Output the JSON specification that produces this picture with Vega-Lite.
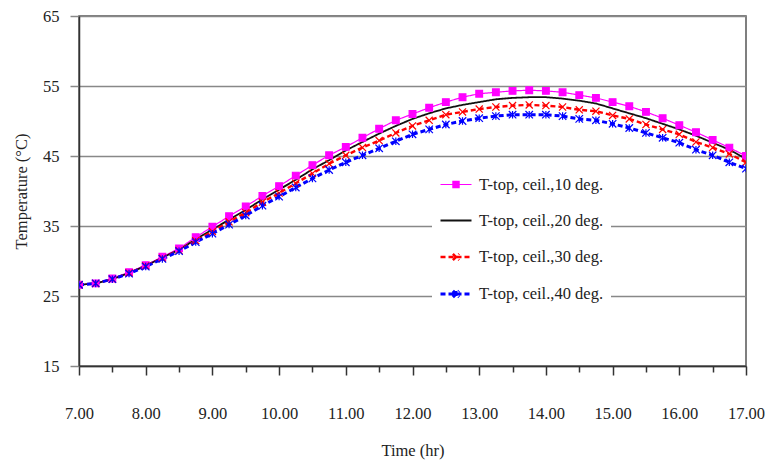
{
  "$schema": "https://vega.github.io/schema/vega-lite/v6.json",
  "width": 667,
  "height": 350,
  "autosize": {"type": "none"},
  "padding": {"left": 79, "top": 16, "right": 21, "bottom": 95},
  "background": "white",
  "config": {
    "font": "Liberation Serif",
    "view": {"stroke": "#555", "strokeWidth": 1.5}
  },
  "data": {
    "values": [
      {"t": 7.0, "10": 26.6, "20": 26.6, "30": 26.6, "40": 26.6},
      {"t": 7.25, "10": 26.8, "20": 26.8, "30": 26.8, "40": 26.8},
      {"t": 7.5, "10": 27.5, "20": 27.4, "30": 27.4, "40": 27.4},
      {"t": 7.75, "10": 28.4, "20": 28.3, "30": 28.3, "40": 28.2},
      {"t": 8.0, "10": 29.4, "20": 29.3, "30": 29.3, "40": 29.2},
      {"t": 8.25, "10": 30.6, "20": 30.5, "30": 30.4, "40": 30.3},
      {"t": 8.5, "10": 31.8, "20": 31.6, "30": 31.5, "40": 31.4},
      {"t": 8.75, "10": 33.4, "20": 33.1, "30": 32.9, "40": 32.7},
      {"t": 9.0, "10": 34.9, "20": 34.5, "30": 34.2, "40": 33.9},
      {"t": 9.25, "10": 36.4, "20": 35.9, "30": 35.6, "40": 35.2},
      {"t": 9.5, "10": 37.8, "20": 37.3, "30": 36.9, "40": 36.5},
      {"t": 9.75, "10": 39.3, "20": 38.8, "30": 38.4, "40": 37.9},
      {"t": 10.0, "10": 40.7, "20": 40.2, "30": 39.7, "40": 39.2},
      {"t": 10.25, "10": 42.2, "20": 41.6, "30": 41.1, "40": 40.5},
      {"t": 10.5, "10": 43.7, "20": 43.1, "30": 42.5, "40": 41.8},
      {"t": 10.75, "10": 45.1, "20": 44.4, "30": 43.9, "40": 43.0},
      {"t": 11.0, "10": 46.3, "20": 45.8, "30": 45.1, "40": 44.1},
      {"t": 11.25, "10": 47.6, "20": 47.0, "30": 46.2, "40": 45.1},
      {"t": 11.5, "10": 48.9, "20": 48.2, "30": 47.2, "40": 46.1},
      {"t": 11.75, "10": 50.1, "20": 49.3, "30": 48.3, "40": 47.1},
      {"t": 12.0, "10": 51.0, "20": 50.3, "30": 49.3, "40": 48.1},
      {"t": 12.25, "10": 51.9, "20": 51.1, "30": 50.1, "40": 48.8},
      {"t": 12.5, "10": 52.7, "20": 51.8, "30": 50.9, "40": 49.5},
      {"t": 12.75, "10": 53.4, "20": 52.3, "30": 51.3, "40": 50.0},
      {"t": 13.0, "10": 53.9, "20": 52.7, "30": 51.7, "40": 50.4},
      {"t": 13.25, "10": 54.1, "20": 53.1, "30": 52.0, "40": 50.7},
      {"t": 13.5, "10": 54.3, "20": 53.3, "30": 52.2, "40": 50.9},
      {"t": 13.75, "10": 54.4, "20": 53.4, "30": 52.3, "40": 50.9},
      {"t": 14.0, "10": 54.3, "20": 53.4, "30": 52.2, "40": 50.9},
      {"t": 14.25, "10": 54.1, "20": 53.2, "30": 52.0, "40": 50.7},
      {"t": 14.5, "10": 53.7, "20": 52.9, "30": 51.6, "40": 50.3},
      {"t": 14.75, "10": 53.3, "20": 52.5, "30": 51.4, "40": 50.1},
      {"t": 15.0, "10": 52.7, "20": 51.8, "30": 50.8, "40": 49.6},
      {"t": 15.25, "10": 52.1, "20": 51.1, "30": 50.3, "40": 49.0},
      {"t": 15.5, "10": 51.3, "20": 50.4, "30": 49.5, "40": 48.3},
      {"t": 15.75, "10": 50.4, "20": 49.6, "30": 48.8, "40": 47.6},
      {"t": 16.0, "10": 49.4, "20": 48.8, "30": 48.1, "40": 46.9},
      {"t": 16.25, "10": 48.4, "20": 47.9, "30": 47.0, "40": 45.9},
      {"t": 16.5, "10": 47.3, "20": 46.9, "30": 46.2, "40": 45.1},
      {"t": 16.75, "10": 46.2, "20": 45.9, "30": 45.3, "40": 44.1},
      {"t": 17.0, "10": 45.0, "20": 44.6, "30": 44.1, "40": 43.2}
    ]
  },
  "transform": [{"fold": ["10", "20", "30", "40"], "as": ["s", "T"]}],
  "encoding": {
    "x": {
      "field": "t",
      "type": "quantitative",
      "scale": {"domain": [7, 17], "nice": false, "zero": false},
      "axis": {
        "values": [7, 7.5, 8, 8.5, 9, 9.5, 10, 10.5, 11, 11.5, 12, 12.5, 13, 13.5, 14, 14.5, 15, 15.5, 16, 16.5, 17],
        "labelExpr": "datum.value % 1 === 0 ? format(datum.value, '.2f') : ''",
        "grid": false,
        "tickSize": {"condition": {"test": "datum.value % 1 === 0", "value": 9}, "value": 6},
        "tickColor": "#333",
        "tickWidth": 1.5,
        "domainColor": "#333",
        "domainWidth": 1.5,
        "labelFontSize": 16.5,
        "labelPadding": 30,
        "labelColor": "#222",
        "labelFlush": false,
        "labelOverlap": false,
        "title": "Time (hr)",
        "titleFontSize": 16.5,
        "titleFontWeight": "normal",
        "titleColor": "#222",
        "titlePadding": 21
      }
    },
    "y": {
      "field": "T",
      "type": "quantitative",
      "scale": {"domain": [15, 65], "nice": false, "zero": false},
      "axis": {
        "values": [15, 25, 35, 45, 55, 65],
        "grid": true,
        "gridColor": "#888",
        "gridWidth": 1.5,
        "tickSize": 9,
        "tickColor": "#888",
        "tickWidth": 1.5,
        "domainColor": "#333",
        "domainWidth": 1.5,
        "labelFontSize": 16.5,
        "labelPadding": 11,
        "labelColor": "#222",
        "title": "Temperature (°C)",
        "titleFontSize": 16.5,
        "titleFontWeight": "normal",
        "titleColor": "#222",
        "titlePadding": 13
      }
    }
  },
  "layer": [
    {
      "mark": {"type": "line", "clip": true},
      "encoding": {
        "color": {
          "field": "s",
          "type": "nominal",
          "scale": {"domain": ["10", "20", "30", "40"], "range": ["#FF00FF", "#111111", "#FF0000", "#0000FF"]},
          "legend": {
            "orient": "none",
            "legendX": 353,
            "legendY": 145,
            "title": null,
            "fillColor": "white",
            "padding": 7,
            "labelFontSize": 16.5,
            "labelColor": "#222",
            "labelFont": "Liberation Serif",
            "labelOffset": 6,
            "labelExpr": "'T-top, ceil.,' + datum.label + ' deg.'",
            "symbolSize": 961,
            "rowPadding": 11,
            "encode": {
              "symbols": {
                "update": {
                  "shape": {"signal": "datum.value === '10' ? 'M-1,0H1M-0.2,-0.2H0.2V0.2H-0.2Z' : datum.value === '20' ? 'M-1,0H1' : datum.value === '30' ? 'M-1,0H1M-0.2,-0.2L0.2,0.2M-0.2,0.2L0.2,-0.2' : 'M-1,0H1M0,-0.2V0.2M-0.2,-0.2L0.2,0.2M-0.2,0.2L0.2,-0.2'"},
                  "fill": {"signal": "datum.value === '10' ? '#FF00FF' : 'transparent'"},
                  "stroke": {"signal": "scale('color', datum.value)"},
                  "strokeWidth": {"signal": "datum.value === '20' ? 3 : 1.2"},
                  "size": {"value": 961},
                  "opacity": {"value": 1}
                }
              }
            }
          }
        },
        "strokeDash": {
          "field": "s",
          "type": "nominal",
          "scale": {"domain": ["10", "20", "30", "40"], "range": [[1, 0], [1, 0], [5, 3], [5, 3]]},
          "legend": null
        },
        "strokeWidth": {
          "field": "s",
          "type": "nominal",
          "scale": {"domain": ["10", "20", "30", "40"], "range": [1.2, 3, 1.2, 1.2]},
          "legend": null
        }
      }
    },
    {
      "transform": [{"filter": "datum.s !== '20'"}],
      "mark": {"type": "point", "filled": true, "strokeWidth": 1.2, "opacity": 1, "clip": true},
      "encoding": {
        "shape": {
          "field": "s",
          "type": "nominal",
          "scale": {"domain": ["10", "30", "40"], "range": ["square", "M-1,-1L1,1M-1,1L1,-1", "M0,-1V1M-1,-1L1,1M-1,1L1,-1"]},
          "legend": null
        },
        "fill": {
          "field": "s",
          "type": "nominal",
          "scale": {"domain": ["10", "30", "40"], "range": ["#FF00FF", "#FF0000", "#0000FF"]},
          "legend": null
        },
        "stroke": {
          "field": "s",
          "type": "nominal",
          "scale": {"domain": ["10", "30", "40"], "range": ["#FF00FF", "#FF0000", "#0000FF"]},
          "legend": null
        },
        "size": {
          "field": "s",
          "type": "nominal",
          "scale": {"domain": ["10", "30", "40"], "range": [45, 56, 56]},
          "legend": null
        }
      }
    }
  ]
}
